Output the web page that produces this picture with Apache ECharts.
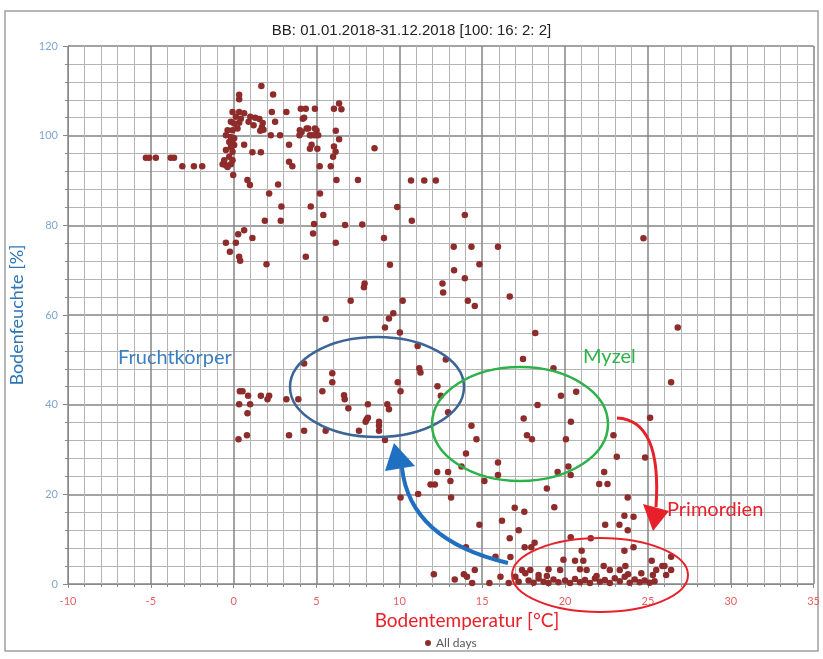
<!DOCTYPE html>
<html lang="de">
<head>
<meta charset="UTF-8">
<title>Bodentemperatur / Bodenfeuchte</title>
<script src="https://cdn.jsdelivr.net/npm/echarts/dist/echarts.min.js"></script>
<style>
  html, body { margin: 0; padding: 0; background: #fff; }
  #main { width: 823px; height: 659px; }
</style>
</head>
<body>
<div id="main"></div>
<script type="text/javascript">
// [Bodentemperatur °C, Bodenfeuchte %]
var coldWetDays = [
  [-5.3,95.1],[-5.1,95.1],[-4.7,95.1],[-3.8,95.1],[-3.6,95.1],[-3.1,93.2],[-2.4,93.2],[-1.9,93.2],
  [1.67,111.1],[2.38,109.2],[0.33,109.1],[0.33,108.1],[6.36,107.2],[6.5,105.9],[4.05,106],[4.35,106],[4.9,106],[6.05,106],[3.18,105.3],[2.3,105.3],
  [-0.07,105.3],[0.33,105.3],[0.63,105],[0.13,104.2],[0.43,103.8],[-0.17,103.1],[0.03,102.7],[0.33,102.9],[-0.37,101.2],[-0.07,101.2],
  [0.23,101.6],[-0.47,100.1],[-0.17,99.7],[0.03,99.4],[-0.27,98.6],[-0.07,99],[0.03,97.9],[-0.17,97.5],[-0.47,96.8],[-0.07,96.4],
  [-0.27,95.3],[-0.57,94.5],[-0.67,93.6],[-0.47,93.4],[-0.37,93],[-0.17,93.6],[-0.07,94.5],[-0.03,91.2],
  [1.0,104.2],[1.3,104],[1.55,103.7],[1.75,102.8],[1.7,101.9],[1.6,101.1],[1.8,101.3],[0.9,103.1],[1.2,102.3],
  [0.63,98],[1.13,96.3],[1.64,96.3],[2.24,100.1],[2.8,100.1],[3.34,98],[2.5,103.1],[4.25,104],[4.17,103.8],
  [4.4,101.6],[4.5,101.6],[4.9,101.6],[5.0,101.2],[4.6,100.1],[4.7,100.1],[5.1,100.1],[4.9,100.1],[3.97,100.1],[4.1,100.8],[3.99,101.2],
  [6.36,99.2],[6.16,101.1],[6.05,97.6],[6.15,96.4],[6.0,95.3],[4.6,97.1],[5.05,97.1],[4.7,98],[3.34,94.2],[3.54,93.2],[5.19,93.2],[5.86,93.2],
  [0.83,90.1],[0.98,89],[2.68,89.1],[2.14,87.1],[6.2,90.1],[7.5,90.1],[5.21,87.1],[2.88,84.2],[2.84,81],[4.65,84.2],[5.41,82.3],[1.88,81],
  [4.85,80.3],[6.72,80.1],[7.76,80.2],[4.79,78.2],[6.16,76.1],
  [0.63,78.9],[0.27,78],[1.13,77.2],[-0.47,76.1],[0.13,76.1],[-0.23,74.1],[0.33,73],[0.39,72.1],[1.98,71.3],[4.35,73],
  [8.5,97.2],[10.7,90],[11.5,90],[12.2,90],[9.87,84.1],[10.75,81],[13.95,82.3],[9.07,77.2],[13.28,75.2],[14.35,75.2],[15.95,75.2],[24.73,77.1]
];
var midDays = [
  [9.43,71.2],[13.3,70],[7.9,67],[7.86,66.2],[12.6,67],[12.64,65],[7.06,63.2],[10.2,63.2],[9.63,60.4],[9.37,59.2],[9.13,57.2],[5.55,59.1],
  [10.03,56.1],[11.1,53.1],[12.8,50.1],[4.25,49.2],[5.95,47],[5.95,45],[11.2,48.1],[11.27,47.2],[9.9,45],[12.3,44.1],[10.07,43],[5.35,43],[12.5,42],
  [0.37,43],[0.53,43],[0.87,42],[1.64,42],[2.14,42],[2.04,41.2],[3.18,41.2],[3.9,41.2],[6.66,42.1],[6.7,41.2],[6.92,39.2],[0.33,40.1],[0.99,40.1],
  [0.83,38.1],[8.1,40.1],[9.27,40.1],[9.37,39],[8.02,36.7],[7.96,36.2],[8.1,37.1],[8.77,36.2],[8.77,35.3],[8.77,34.2],[7.56,34.2],[12.94,38.3],
  [4.25,34.2],[5.55,34.2],[3.34,33.2],[0.8,33.2],[0.29,32.3],[9.13,32.1],
  [14.83,71.3],[13.95,68.2],[14.13,63.2],[14.55,62],[16.66,64.1],[26.8,57.2],[18.2,56],[17.46,50.2],[19.3,48.1],[26.4,45],[20.67,42.9],
  [19.75,42],[18.34,39.9],[17.5,36.9],[20.35,36.2],[25.13,37.1],[14.35,35.3],[17.7,33.2],[18.0,32.3],[20.05,32.3],[14.65,32.3],[22.92,33.2],
  [14.02,29.1],[23.12,28.4],[24.83,28.2]
];
var warmDryDays = [
  [15.95,27.1],[15.95,24.3],[13.75,26.2],[12.28,25],[12.94,25],[13.08,23],[11.88,22.2],[12.14,22.2],[15.13,23],[18.9,21.3],[11.13,20.1],
  [10.07,19.3],[13.12,19.3],[16.96,17],[17.54,16.1],[16.19,14.1],[14.83,13.2],[17.2,12],[16.66,10.2],[18.16,9.2],[17.56,8.2],[17.96,8.2],
  [14.02,8.2],[15.8,6.1],[16.7,6],[17.4,3.1],[17.9,3.1],[14.55,3.1],[12.08,2.2],[13.34,1],[13.89,2.2],[14.08,1.6],[14.39,0.2],[15.43,0.2],
  [16.1,1.6],[16.6,0.2],[17.0,1.6],[17.2,0.5],[17.6,2.4],[18.4,2],
  [19.55,25],[20.2,26.2],[20.34,24.3],[22.36,25],[22.06,22.3],[22.56,22.3],[23.78,19.3],[19.35,17.1],[23.58,15.2],[24.13,15],[22.42,13.2],
  [23.28,13.2],[23.78,12],[20.34,10.4],[21.55,10.2],[24.13,8.2],[23.58,7.4],[21.0,7.4],[26.4,6.1],[19.9,5.4],[20.6,5.2],[21.1,5.2],[25.23,5.2],
  [25.87,4],[26.0,4],[22.33,4],[23.64,4],[19.0,3.3],[19.7,3.1],[20.9,3.3],[21.3,3.1],[22.7,3.1],[23.3,3.1],[25.5,3.1],[26.4,3.1],[25.3,2],[26.1,2],
  [17.8,0.8],[18.1,0.3],[18.4,1.2],[18.7,0.5],[19.0,0.2],[19.3,1],[19.6,0.4],[20.0,0.8],[20.3,0.2],[20.6,1.1],[20.9,0.4],[21.2,0.9],[21.5,0.2],
  [21.8,1.2],[22.1,0.5],[22.4,0.9],[22.7,0.2],[23.0,1.3],[23.3,0.6],[23.6,1.6],[23.9,0.3],[24.2,1.0],[24.5,0.4],[24.8,0.8],[25.1,0.3],[25.4,0.6],
  [18.9,1.8],[21.9,1.8],[23.8,2.2],[24.6,2.4]
];

var xTicks = [-10, 35, 5];   // min, max, interval
var yTicks = [0, 120, 20];

var allDays = coldWetDays.concat(midDays, warmDryDays);

var dom = document.getElementById("main");
var myChart = echarts.init(dom);

var blue = '#2E75B6';
var red = '#E8202A';
var green = '#2DB24A';

var option = {
    animation: false,
    backgroundColor: '#fff',
    textStyle: { fontFamily: 'Lato, "Open Sans", sans-serif' },
    title: {
        text: 'BB: 01.01.2018-31.12.2018 [100: 16: 2: 2]',
        left: 'center',
        top: 18,
        textStyle: { fontSize: 15, fontWeight: 'normal', color: '#222', fontFamily: '"Liberation Sans", Arial, sans-serif' }
    },
    legend: {
        data: ['All days'],
        left: 420,
        top: 632,
        icon: 'circle',
        itemWidth: 6,
        itemHeight: 6,
        itemGap: 4,
        textStyle: { fontSize: 12, color: '#595959' }
    },
    grid: { left: 68, right: 8, top: 46, bottom: 75 },
    xAxis: {
        type: 'value',
        min: xTicks[0], max: xTicks[1], interval: xTicks[2],
        axisLine: { show: true, onZero: false, lineStyle: { color: '#8a8a8a' } },
        axisTick: { show: true, length: 4, lineStyle: { color: '#8a8a8a' } },
        minorTick: { show: true, splitNumber: 5, length: 3, lineStyle: { color: '#8a8a8a' } },
        axisLabel: { color: '#E86060', fontSize: 11, margin: 12 },
        splitLine: { show: true, lineStyle: { color: '#858585', width: 1.5 } },
        minorSplitLine: { show: true, lineStyle: { color: '#b4b4b4', width: 1 } }
    },
    yAxis: {
        type: 'value',
        min: yTicks[0], max: yTicks[1], interval: yTicks[2],
        name: 'Bodenfeuchte [%]',
        nameLocation: 'middle',
        nameGap: 42,
        nameTextStyle: { color: blue, fontSize: 18 },
        axisLine: { show: true, onZero: false, lineStyle: { color: '#8a8a8a' } },
        axisTick: { show: true, length: 5, lineStyle: { color: '#8a8a8a' } },
        minorTick: { show: true, splitNumber: 5, length: 3, lineStyle: { color: '#8a8a8a' } },
        axisLabel: { color: '#7FA6CF', fontSize: 11, margin: 10 },
        splitLine: { show: true, lineStyle: { color: '#858585', width: 1.5 } },
        minorSplitLine: { show: true, lineStyle: { color: '#b4b4b4', width: 1 } }
    },
    series: [{
        name: 'All days',
        type: 'scatter',
        symbolSize: 6.5,
        itemStyle: { color: '#8E2B2B', opacity: 1 },
        data: allDays
    }],
    graphic: [
        // Rahmen
        { type: 'rect', z: 0, silent: true, shape: { x: 5, y: 11, width: 813, height: 640 },
          style: { fill: 'none', stroke: '#a0a0a0', lineWidth: 1.5 } },
        { type: 'text', z: 100, x: 467, y: 621,
          style: { text: 'Bodentemperatur [°C]', fill: red, fontSize: 19, fontFamily: 'Lato, sans-serif', align: 'center', verticalAlign: 'middle' } },
        // Ellipsen
        { type: 'ellipse', z: 100, shape: { cx: 377, cy: 387, rx: 87, ry: 50 },
          style: { fill: 'none', stroke: '#3C6496', lineWidth: 2.5 } },
        { type: 'ellipse', z: 100, shape: { cx: 520, cy: 424, rx: 88, ry: 57 },
          style: { fill: 'none', stroke: green, lineWidth: 2.5 } },
        { type: 'ellipse', z: 100, shape: { cx: 600, cy: 575, rx: 88, ry: 37 },
          style: { fill: 'none', stroke: red, lineWidth: 2 } },
        // Pfeile
        { type: 'bezierCurve', z: 100, shape: { x1: 508, y1: 563, cpx1: 410, cpy1: 540, x2: 402, y2: 468 },
          style: { fill: 'none', stroke: '#1F70C1', lineWidth: 4 } },
        { type: 'polygon', z: 100, shape: { points: [[394, 443], [385, 471], [415, 466]] },
          style: { fill: '#1F70C1' } },
        { type: 'bezierCurve', z: 100, shape: { x1: 617, y1: 418, cpx1: 662, cpy1: 420, x2: 656, y2: 507 },
          style: { fill: 'none', stroke: red, lineWidth: 3 } },
        { type: 'polygon', z: 100, shape: { points: [[653, 531], [643, 504], [669, 511]] },
          style: { fill: red } },
        // Beschriftungen
        { type: 'text', z: 100, x: 118, y: 358,
          style: { text: 'Fruchtkörper', fill: '#3A7FC1', fontSize: 20, fontFamily: 'Lato, sans-serif', verticalAlign: 'middle' } },
        { type: 'text', z: 100, x: 583, y: 357,
          style: { text: 'Myzel', fill: green, fontSize: 20, fontFamily: 'Lato, sans-serif', verticalAlign: 'middle' } },
        { type: 'text', z: 100, x: 667, y: 510,
          style: { text: 'Primordien', fill: red, fontSize: 20, fontFamily: 'Lato, sans-serif', verticalAlign: 'middle' } }
    ]
};

if (option && typeof option === "object") {
    myChart.setOption(option, true);
}
</script>
</body>
</html>
